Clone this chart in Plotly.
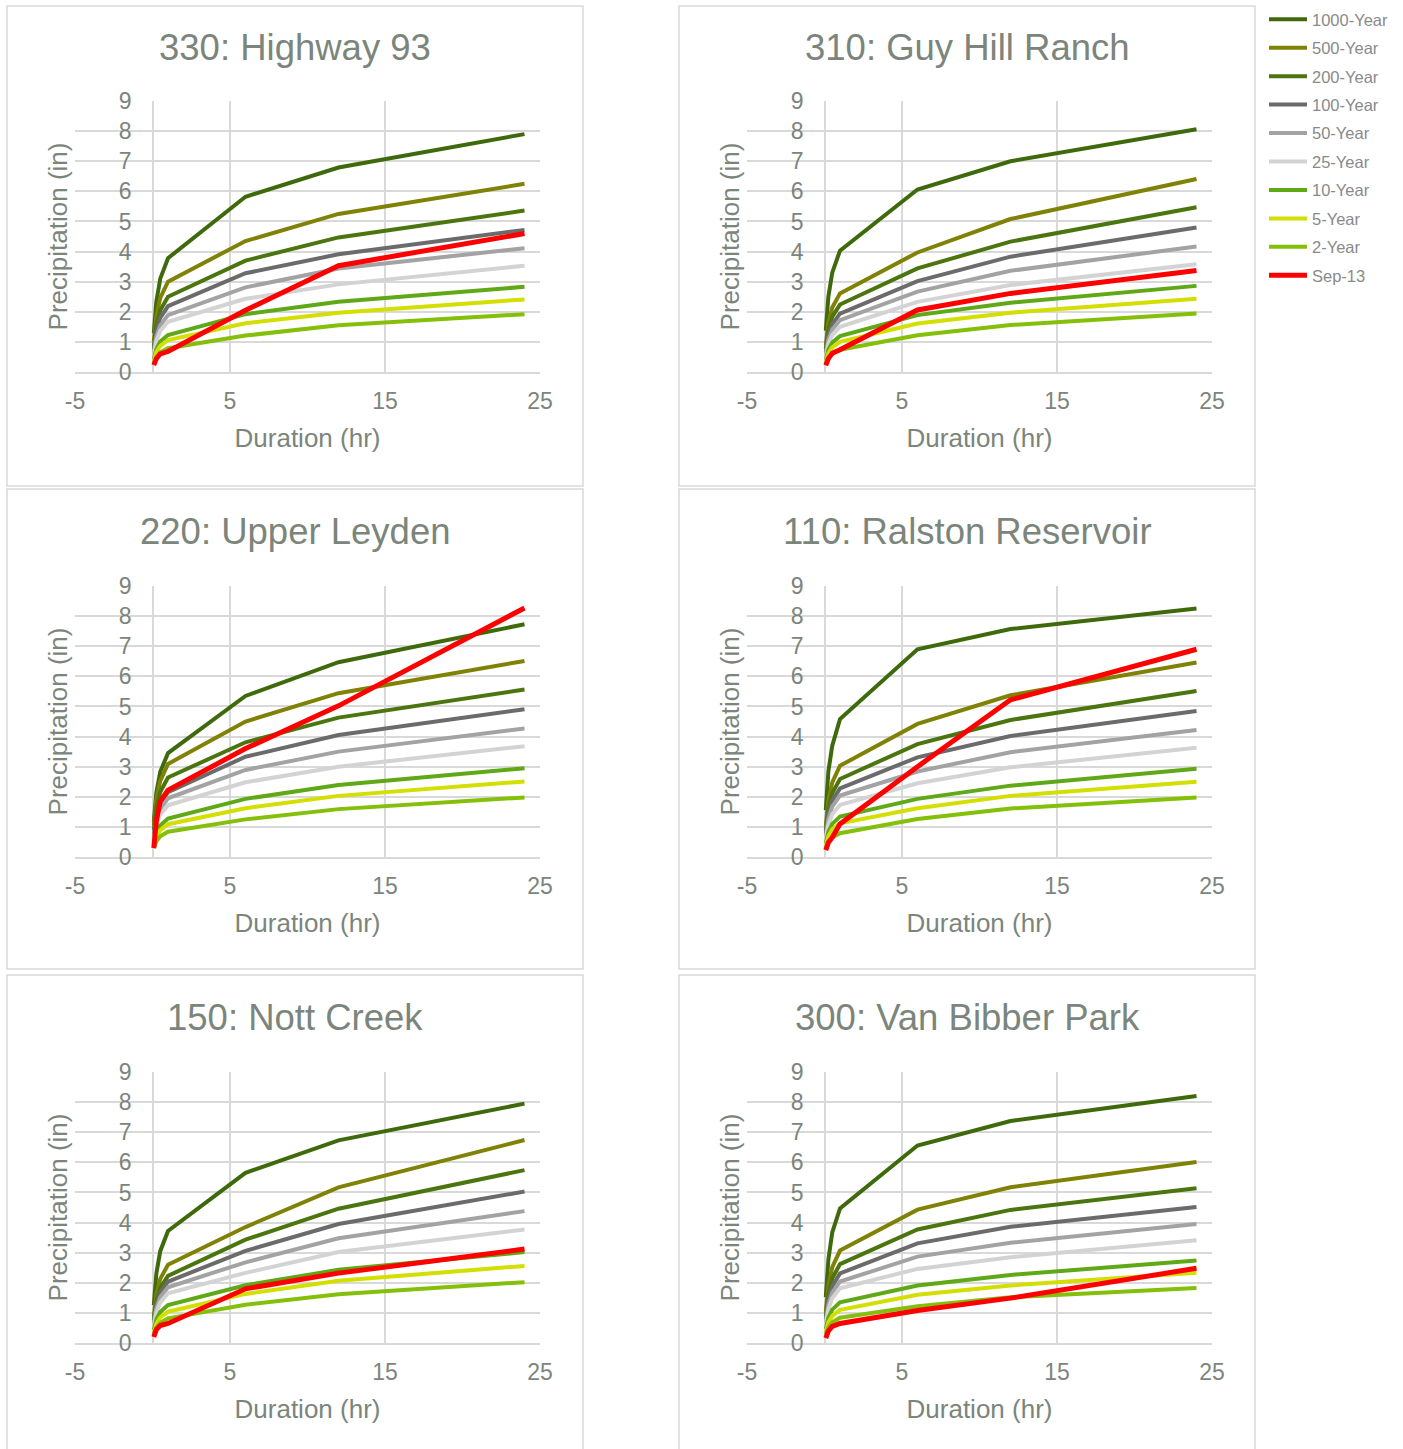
import plotly.graph_objects as go

# ---------------- data ----------------
durations_hr = [0.083, 0.25, 0.5, 1, 6, 12, 24]

series_names = ["1000-Year", "500-Year", "200-Year", "100-Year", "50-Year",
                "25-Year", "10-Year", "5-Year", "2-Year", "Sep-13"]

station_titles = ["330: Highway 93", "310: Guy Hill Ranch", "220: Upper Leyden",
                  "110: Ralston Reservoir", "150: Nott Creek", "300: Van Bibber Park"]

highway_93 = {
    "1000-Year": [1.29, 2.34, 3.10, 3.78, 5.82, 6.79, 7.90],
    "500-Year":  [1.02, 1.86, 2.46, 3.00, 4.35, 5.25, 6.25],
    "200-Year":  [0.85, 1.55, 2.05, 2.50, 3.70, 4.47, 5.36],
    "100-Year":  [0.74, 1.36, 1.80, 2.19, 3.28, 3.91, 4.72],
    "50-Year":   [0.64, 1.17, 1.55, 1.89, 2.81, 3.44, 4.11],
    "25-Year":   [0.57, 1.04, 1.37, 1.67, 2.43, 2.91, 3.53],
    "10-Year":   [0.42, 0.76, 1.01, 1.23, 1.92, 2.33, 2.83],
    "5-Year":    [0.36, 0.66, 0.87, 1.06, 1.62, 1.97, 2.41],
    "2-Year":    [0.27, 0.49, 0.65, 0.79, 1.21, 1.55, 1.92],
    "Sep-13":    [0.23, 0.45, 0.60, 0.68, 2.05, 3.53, 4.60],
}
guy_hill_ranch = {
    "1000-Year": [1.37, 2.50, 3.30, 4.03, 6.06, 7.00, 8.06],
    "500-Year":  [0.89, 1.62, 2.14, 2.61, 3.97, 5.08, 6.41],
    "200-Year":  [0.76, 1.39, 1.84, 2.24, 3.44, 4.33, 5.47],
    "100-Year":  [0.66, 1.20, 1.59, 1.94, 3.02, 3.83, 4.80],
    "50-Year":   [0.58, 1.07, 1.41, 1.72, 2.67, 3.36, 4.17],
    "25-Year":   [0.51, 0.93, 1.23, 1.50, 2.33, 2.89, 3.58],
    "10-Year":   [0.40, 0.74, 0.98, 1.19, 1.89, 2.30, 2.86],
    "5-Year":    [0.34, 0.62, 0.82, 1.00, 1.61, 1.97, 2.43],
    "2-Year":    [0.25, 0.46, 0.61, 0.74, 1.22, 1.56, 1.94],
    "Sep-13":    [0.22, 0.45, 0.62, 0.74, 2.06, 2.61, 3.37],
}
upper_leyden = {
    "1000-Year": [1.17, 2.14, 2.83, 3.45, 5.35, 6.47, 7.73],
    "500-Year":  [1.05, 1.92, 2.53, 3.09, 4.50, 5.44, 6.51],
    "200-Year":  [0.90, 1.64, 2.16, 2.64, 3.81, 4.63, 5.56],
    "100-Year":  [0.73, 1.33, 1.76, 2.15, 3.33, 4.05, 4.91],
    "50-Year":   [0.66, 1.21, 1.60, 1.95, 2.89, 3.50, 4.27],
    "25-Year":   [0.58, 1.07, 1.41, 1.72, 2.48, 3.00, 3.68],
    "10-Year":   [0.44, 0.79, 1.05, 1.28, 1.93, 2.39, 2.95],
    "5-Year":    [0.37, 0.68, 0.89, 1.09, 1.62, 2.03, 2.51],
    "2-Year":    [0.29, 0.52, 0.69, 0.84, 1.25, 1.59, 1.98],
    "Sep-13":    [0.30, 1.20, 1.85, 2.22, 3.60, 5.02, 8.27],
}
ralston_reservoir = {
    "1000-Year": [1.56, 2.84, 3.70, 4.58, 6.90, 7.57, 8.25],
    "500-Year":  [1.03, 1.88, 2.48, 3.03, 4.42, 5.37, 6.46],
    "200-Year":  [0.88, 1.61, 2.12, 2.59, 3.75, 4.55, 5.51],
    "100-Year":  [0.78, 1.41, 1.87, 2.28, 3.31, 4.02, 4.85],
    "50-Year":   [0.69, 1.26, 1.67, 2.04, 2.84, 3.48, 4.22],
    "25-Year":   [0.59, 1.07, 1.42, 1.73, 2.45, 2.98, 3.63],
    "10-Year":   [0.46, 0.83, 1.10, 1.34, 1.93, 2.37, 2.93],
    "5-Year":    [0.38, 0.69, 0.92, 1.12, 1.62, 2.03, 2.50],
    "2-Year":    [0.27, 0.49, 0.65, 0.79, 1.26, 1.61, 1.98],
    "Sep-13":    [0.23, 0.48, 0.65, 1.10, 3.00, 5.22, 6.90],
}
nott_creek = {
    "1000-Year": [1.26, 2.31, 3.05, 3.72, 5.65, 6.73, 7.95],
    "500-Year":  [0.88, 1.61, 2.13, 2.60, 3.85, 5.17, 6.74],
    "200-Year":  [0.76, 1.38, 1.83, 2.23, 3.43, 4.46, 5.74],
    "100-Year":  [0.69, 1.26, 1.67, 2.04, 3.06, 3.95, 5.03],
    "50-Year":   [0.63, 1.15, 1.52, 1.85, 2.68, 3.48, 4.38],
    "25-Year":   [0.56, 1.02, 1.35, 1.65, 2.33, 3.02, 3.77],
    "10-Year":   [0.43, 0.78, 1.03, 1.26, 1.92, 2.43, 3.02],
    "5-Year":    [0.35, 0.64, 0.85, 1.04, 1.63, 2.07, 2.56],
    "2-Year":    [0.28, 0.51, 0.67, 0.82, 1.27, 1.62, 2.02],
    "Sep-13":    [0.20, 0.45, 0.58, 0.65, 1.80, 2.32, 3.12],
}
van_bibber_park = {
    "1000-Year": [1.52, 2.77, 3.67, 4.47, 6.56, 7.37, 8.20],
    "500-Year":  [1.04, 1.90, 2.52, 3.07, 4.43, 5.17, 6.01],
    "200-Year":  [0.89, 1.62, 2.15, 2.62, 3.77, 4.42, 5.14],
    "100-Year":  [0.79, 1.43, 1.89, 2.31, 3.31, 3.86, 4.52],
    "50-Year":   [0.69, 1.26, 1.67, 2.04, 2.87, 3.33, 3.95],
    "25-Year":   [0.62, 1.13, 1.49, 1.82, 2.46, 2.85, 3.41],
    "10-Year":   [0.46, 0.84, 1.11, 1.35, 1.91, 2.26, 2.74],
    "5-Year":    [0.37, 0.68, 0.90, 1.10, 1.60, 1.91, 2.33],
    "2-Year":    [0.29, 0.52, 0.69, 0.84, 1.22, 1.52, 1.83],
    "Sep-13":    [0.16, 0.40, 0.55, 0.65, 1.08, 1.49, 2.48],
}

stations = [highway_93, guy_hill_ranch, upper_leyden,
            ralston_reservoir, nott_creek, van_bibber_park]

x_ticks = [-5, 5, 15, 25]
x_tick_labels = ["-5", "5", "15", "25"]
y_ticks = [0, 1, 2, 3, 4, 5, 6, 7, 8, 9]

# ---------------- styling ----------------
series_colors = {
    "1000-Year": "#3f6a0c",
    "500-Year": "#7f8205",
    "200-Year": "#4b750f",
    "100-Year": "#6b6b6b",
    "50-Year": "#a3a3a3",
    "25-Year": "#d3d3d3",
    "10-Year": "#5ea915",
    "5-Year": "#d2df00",
    "2-Year": "#84bf0a",
    "Sep-13": "#ff0000",
}
FONT = "Liberation Sans, Arial, sans-serif"
TEXT = "#7b857b"
GRID = "#d9d9d9"
W, H = 1403, 1449

col_off = [0, 672]
row_off = [0, 485, 971]
box_top = [6, 489, 975]

fig = go.Figure()
shapes = []
annotations = []

for i, (title, data) in enumerate(zip(station_titles, stations)):
    r, c = divmod(i, 2)
    sx = "" if i == 0 else str(i + 1)
    xk, yk = "x" + sx, "y" + sx
    px0, px1 = 75 + col_off[c], 540 + col_off[c]
    py0, py1 = 101 + row_off[r], 372 + row_off[r]

    for name in series_names:
        fig.add_trace(go.Scatter(
            x=durations_hr, y=data[name], mode="lines", name=name,
            legendgroup=name, showlegend=(i == 0),
            line=dict(color=series_colors[name],
                      width=5 if name == "Sep-13" else 4),
            xaxis=xk, yaxis=yk, hoverinfo="x+y+name"))

    fig.update_layout(**{
        "xaxis" + sx: dict(
            domain=[px0 / W, px1 / W], anchor=yk, range=[-5, 25],
            tickvals=x_ticks, ticktext=x_tick_labels,
            showgrid=True, gridcolor=GRID, gridwidth=2,
            zeroline=True, zerolinecolor=GRID, zerolinewidth=2,
            showline=True, linecolor=GRID, linewidth=2, ticks="",
            tickfont=dict(family=FONT, size=23, color=TEXT),
            ticklabelstandoff=7, automargin=False,
            title=dict(text="Duration (hr)", standoff=16,
                       font=dict(family=FONT, size=26, color=TEXT)),
            fixedrange=True),
        "yaxis" + sx: dict(
            domain=[1 - py1 / H, 1 - py0 / H], anchor="free",
            position=(px0 + 77.5) / W, range=[0, 9], tickvals=y_ticks,
            showgrid=True, gridcolor=GRID, gridwidth=2, zeroline=False,
            showline=False, ticks="", automargin=False,
            tickfont=dict(family=FONT, size=23, color=TEXT),
            ticklabelstandoff=21,
            title=dict(text="Precipitation (in)", standoff=42,
                       font=dict(family=FONT, size=26, color=TEXT)),
            fixedrange=True),
    })

    bx0, bx1 = 7 + col_off[c], 583 + col_off[c]
    by0 = box_top[r]
    by1 = by0 + 480
    shapes.append(dict(type="rect", xref="paper", yref="paper",
                       x0=bx0 / W, x1=bx1 / W, y0=1 - by1 / H, y1=1 - by0 / H,
                       line=dict(color=GRID, width=1.5), layer="below"))
    annotations.append(dict(text=title, xref="paper", yref="paper",
                            x=(bx0 + bx1) / 2 / W, y=1 - (by0 + 42) / H,
                            xanchor="center", yanchor="middle", showarrow=False,
                            font=dict(family=FONT, size=36.5, color=TEXT)))

fig.update_layout(
    width=W, height=H,
    margin=dict(l=0, r=0, t=0, b=0, pad=0, autoexpand=False),
    paper_bgcolor="white", plot_bgcolor="white",
    shapes=shapes, annotations=annotations,
    showlegend=True,
    legend=dict(x=1264 / W, y=1 - 2 / H, xanchor="left", yanchor="top",
                font=dict(family=FONT, size=16.5, color="#8a8a8a"),
                itemwidth=38, tracegroupgap=4, bgcolor="rgba(0,0,0,0)",
                traceorder="grouped"),
)

fig.write_html("out.html",
               config={"displayModeBar": False},
               post_script="document.body.style.margin='0';")
